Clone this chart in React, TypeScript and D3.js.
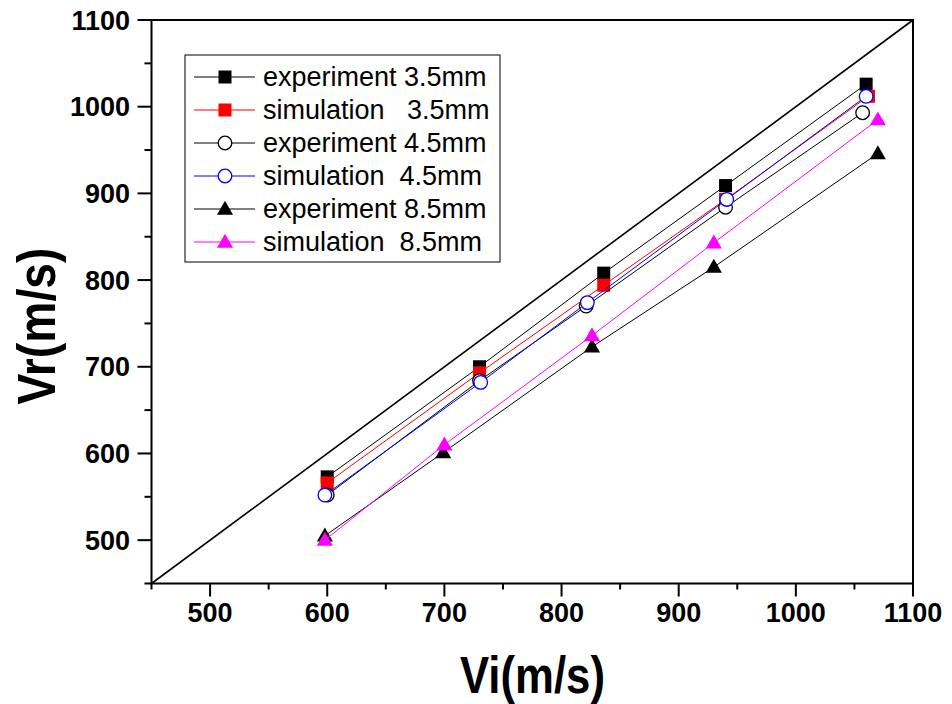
import React from "react";
import * as d3 from "d3";

const xTicks = [500, 600, 700, 800, 900, 1000, 1100];
const yTicks = [500, 600, 700, 800, 900, 1000, 1100];
const minorTicks = [450, 550, 650, 750, 850, 950, 1050];

const exp35X = [600, 730, 836, 940, 1060];
const exp35Y = [573, 700, 808, 909, 1026];
const sim35X = [600, 730, 836, 940, 1062];
const sim35Y = [566, 693, 794, 893, 1012];
const exp45X = [600, 730, 821, 940, 1057];
const exp45Y = [552, 684, 770, 884, 993];
const sim45X = [598, 731, 822, 941, 1060];
const sim45Y = [552, 682, 774, 893, 1012];
const exp85X = [598, 699, 826, 930, 1070];
const exp85Y = [505, 601, 723, 815, 946];
const sim85X = [598, 700, 826, 930, 1070];
const sim85Y = [500, 610, 736, 843, 985];

type Series = { name: string; xs: number[]; ys: number[]; color: string; marker: string; fill: string };

const series: Series[] = [
  { name: "experiment 3.5mm", xs: exp35X, ys: exp35Y, color: "#000", marker: "square", fill: "#000" },
  { name: "simulation   3.5mm", xs: sim35X, ys: sim35Y, color: "#ff0000", marker: "square", fill: "#ff0000" },
  { name: "experiment 4.5mm", xs: exp45X, ys: exp45Y, color: "#000", marker: "circle", fill: "#fff" },
  { name: "simulation  4.5mm", xs: sim45X, ys: sim45Y, color: "#0000ff", marker: "circle", fill: "#fff" },
  { name: "experiment 8.5mm", xs: exp85X, ys: exp85Y, color: "#000", marker: "triangle", fill: "#000" },
  { name: "simulation  8.5mm", xs: sim85X, ys: sim85Y, color: "#ff00ff", marker: "triangle", fill: "#ff00ff" },
];

const L = 151.5, R = 913, T = 20, B = 583.5;
const x = d3.scaleLinear().domain([450, 1100]).range([L, R]);
const y = d3.scaleLinear().domain([450, 1100]).range([B, T]);

function Marker({ cx, cy, s }: { cx: number; cy: number; s: Series }) {
  if (s.marker === "square") {
    return <rect x={cx - 6.5} y={cy - 6.5} width={13} height={13} fill={s.fill} />;
  }
  if (s.marker === "circle") {
    return <circle cx={cx} cy={cy} r={6.8} fill={s.fill} stroke={s.color} strokeWidth={1.3} />;
  }
  const sym = d3.symbol().type(d3.symbolTriangle).size(112)();
  return <path d={sym || ""} transform={`translate(${cx},${cy + 1})`} fill={s.fill} />;
}

export default function App() {
  const line = d3.line<[number, number]>().x((d) => x(d[0])).y((d) => y(d[1]));
  const font = "Arial, 'Liberation Sans', sans-serif";
  return (
    <svg width={952} height={704} style={{ position: "absolute", left: 0, top: 0, fontFamily: font }}>
      <rect width={952} height={704} fill="#fff" />
      {/* diagonal */}
      <path d={line([[450, 450], [1100, 1100]]) || ""} stroke="#000" strokeWidth={1.6} fill="none" />
      {/* series */}
      {series.map((s, i) => (
        <g key={i}>
          <path d={line(s.xs.map((v, j) => [v, s.ys[j]] as [number, number])) || ""} stroke={s.color} strokeWidth={1} fill="none" />
          {s.xs.map((v, j) => (
            <Marker key={j} cx={x(v)} cy={y(s.ys[j])} s={s} />
          ))}
        </g>
      ))}
      {/* frame */}
      <rect x={L} y={T} width={R - L} height={B - T} fill="none" stroke="#000" strokeWidth={2} />
      {/* x ticks */}
      {xTicks.map((t) => (
        <g key={"x" + t}>
          <line x1={x(t)} x2={x(t)} y1={B} y2={B + 13} stroke="#000" strokeWidth={2} />
          <text x={x(t)} y={622} textAnchor="middle" fontSize={27} fontWeight="bold">{t}</text>
        </g>
      ))}
      {minorTicks.map((t) => (
        <line key={"xm" + t} x1={x(t)} x2={x(t)} y1={B} y2={B + 6} stroke="#000" strokeWidth={2} />
      ))}
      {/* y ticks */}
      {yTicks.map((t) => (
        <g key={"y" + t}>
          <line x1={L - 14} x2={L} y1={y(t)} y2={y(t)} stroke="#000" strokeWidth={2} />
          <text x={130} y={y(t) + 9.5} textAnchor="end" fontSize={27} fontWeight="bold">{t}</text>
        </g>
      ))}
      {minorTicks.map((t) => (
        <line key={"ym" + t} x1={L - 7} x2={L} y1={y(t)} y2={y(t)} stroke="#000" strokeWidth={2} />
      ))}
      {/* axis titles */}
      <text x={532.5} y={693} textAnchor="middle" fontSize={52} fontWeight="bold" textLength={145} lengthAdjust="spacingAndGlyphs">Vi(m/s)</text>
      <text transform="translate(55,326) rotate(-90)" textAnchor="middle" fontSize={54} fontWeight="bold" textLength={157} lengthAdjust="spacingAndGlyphs">Vr(m/s)</text>
      {/* legend */}
      <rect x={185} y={55} width={315} height={207} fill="#fff" stroke="#000" strokeWidth={1} />
      {series.map((s, i) => {
        const ly = 77 + i * 33;
        return (
          <g key={"l" + i}>
            <line x1={194} x2={255} y1={ly} y2={ly} stroke={s.color} strokeWidth={1} />
            <Marker cx={225} cy={ly} s={s} />
            <text x={263} y={ly + 9} fontSize={27} style={{ whiteSpace: "pre" }}>{s.name}</text>
          </g>
        );
      })}
    </svg>
  );
}
